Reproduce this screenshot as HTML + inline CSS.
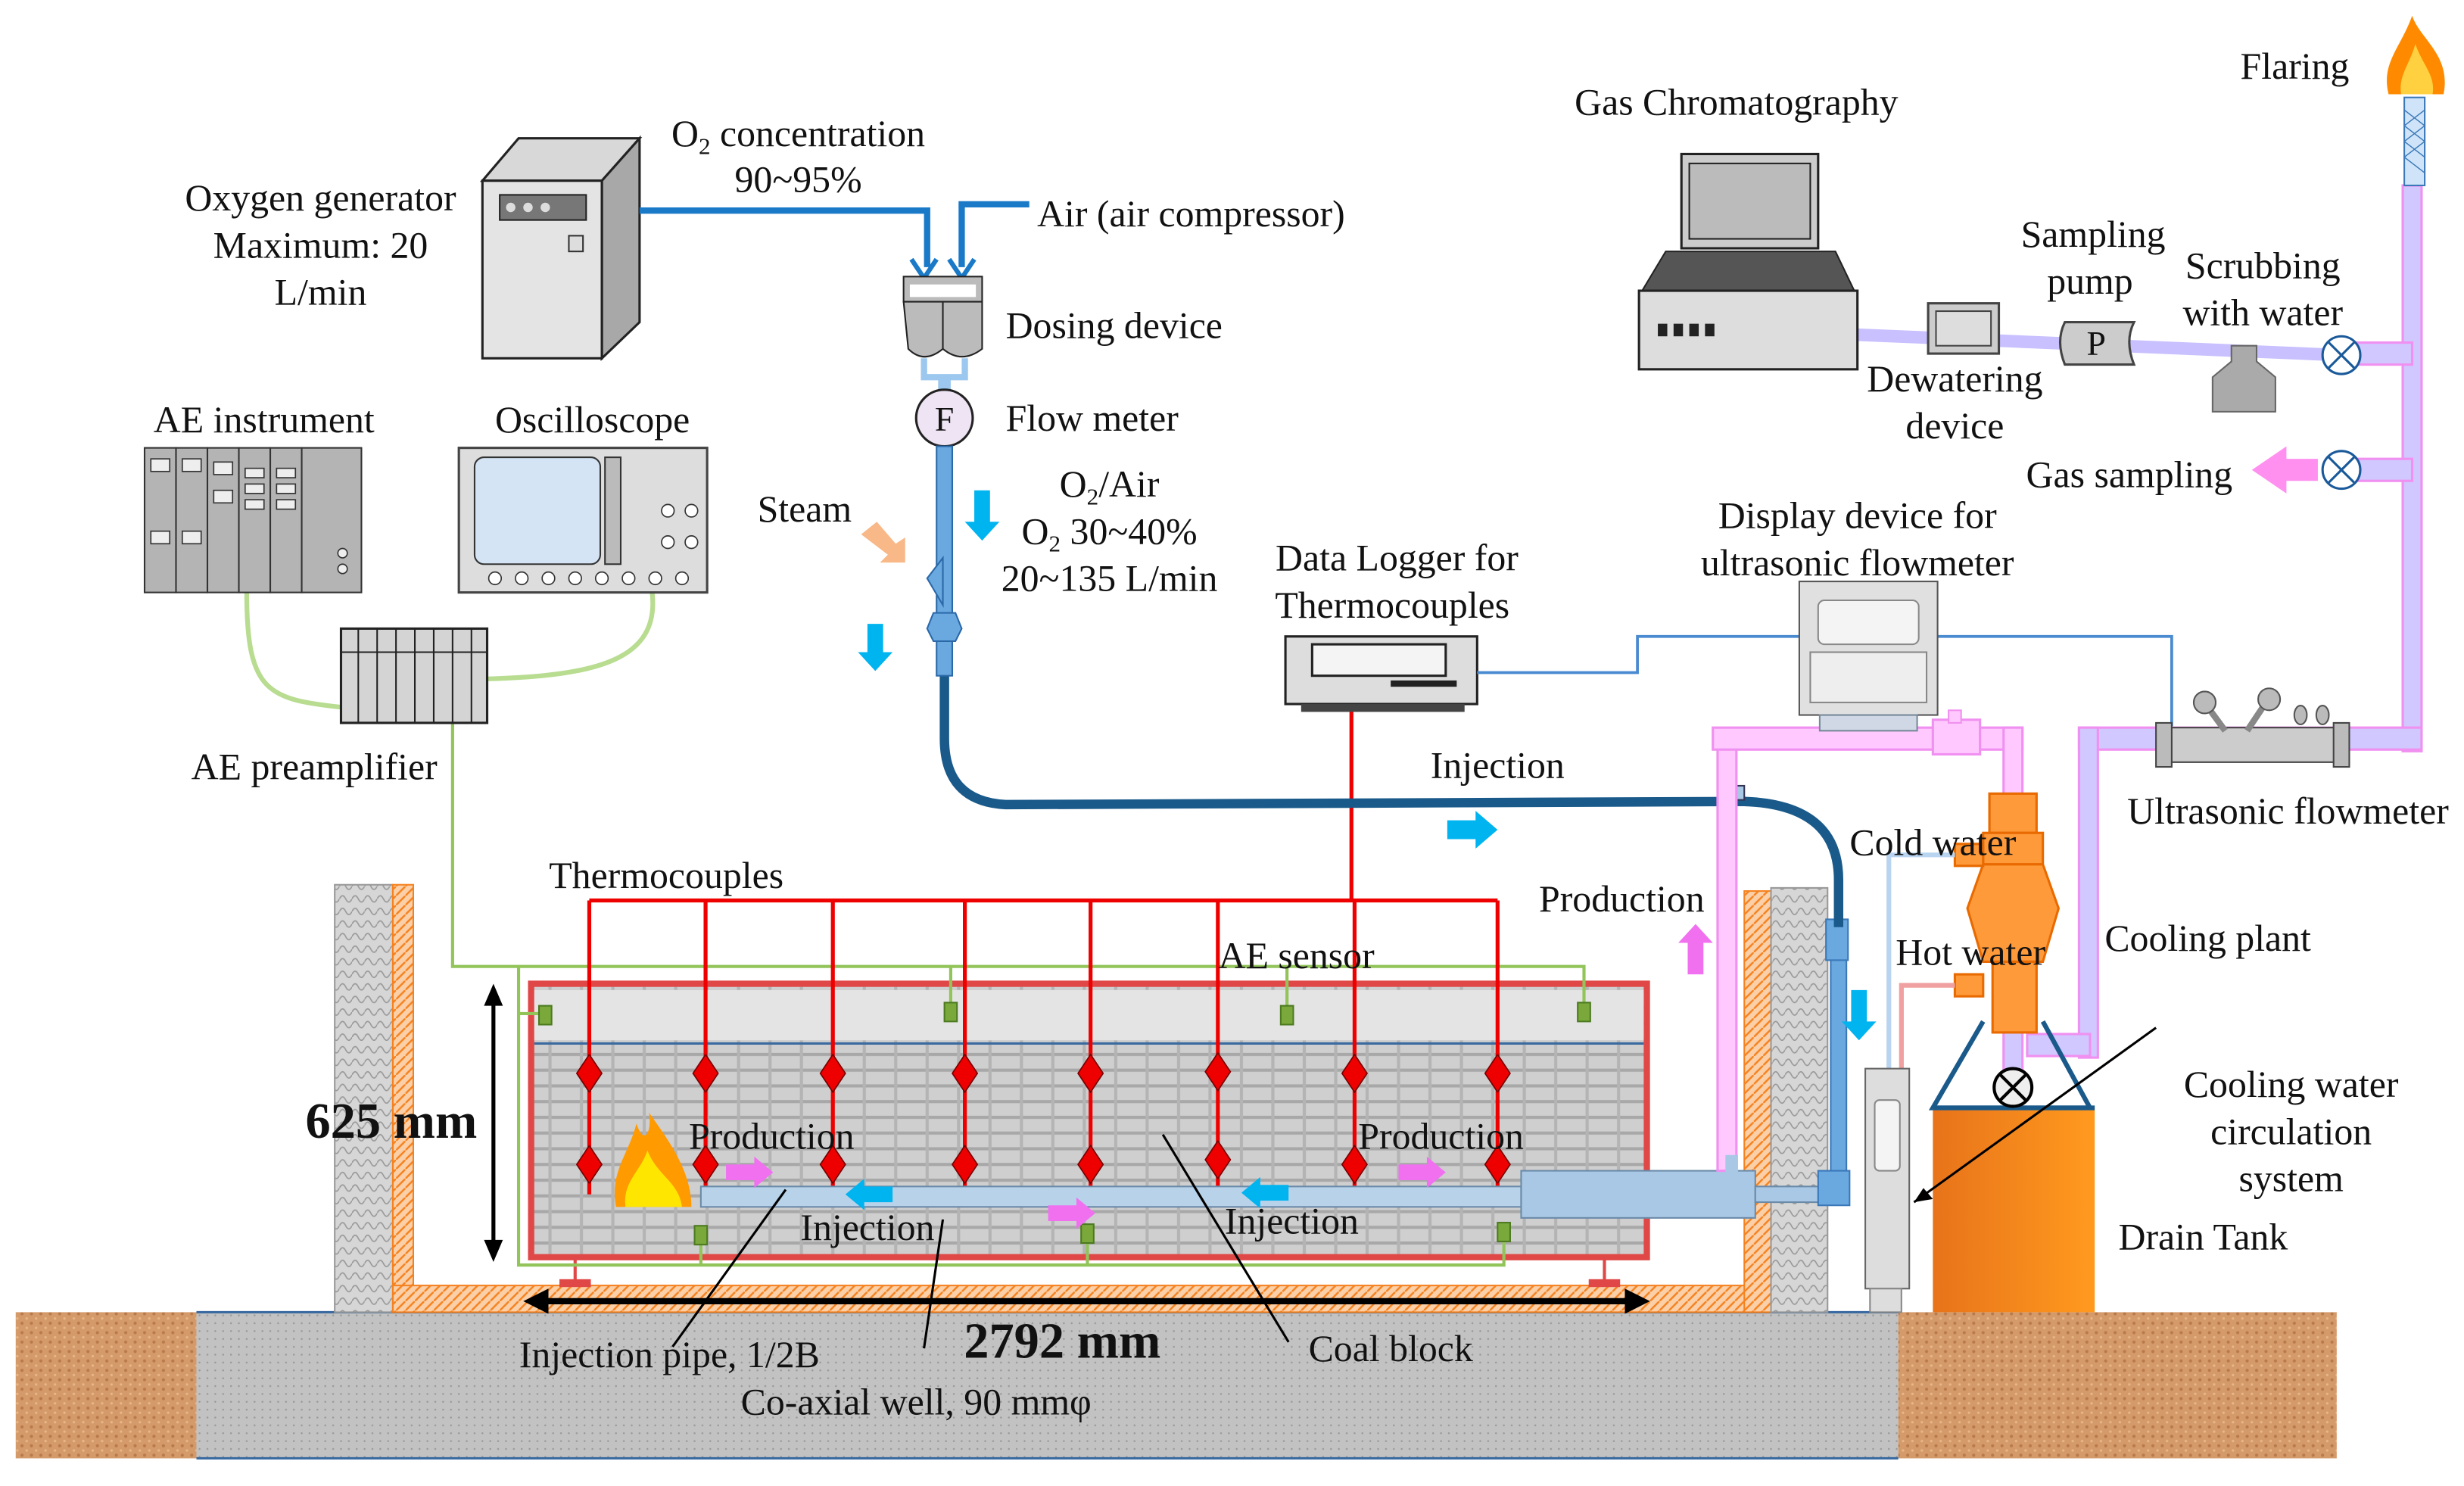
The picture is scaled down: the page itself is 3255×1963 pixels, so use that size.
<!DOCTYPE html>
<html><head><meta charset="utf-8"><style>
html,body{margin:0;padding:0;background:#fff;}
svg{display:block;}
text{font-family:"Liberation Serif",serif;font-size:24px;fill:#111;}
.c{text-anchor:middle;}
</style></head><body>
<svg width="3255" height="1963" viewBox="0 0 1568 945.6" preserveAspectRatio="none" xmlns="http://www.w3.org/2000/svg">
<defs>
<pattern id="brick" width="20" height="10" patternUnits="userSpaceOnUse">
<rect width="20" height="10" fill="#cfcfcf"/><rect x="0" y="0" width="20" height="2" fill="#a8a8a8"/><rect x="9" y="0" width="2" height="10" fill="#b4b4b4"/>
</pattern>
<pattern id="hatch" width="6" height="6" patternUnits="userSpaceOnUse">
<rect width="6" height="6" fill="#fbd0a8"/><path d="M0 6L6 0" stroke="#f58220" stroke-width="1.2"/>
</pattern>
<pattern id="wall" width="8" height="8" patternUnits="userSpaceOnUse">
<rect width="8" height="8" fill="#d6d6d6"/><path d="M0 4Q2 0 4 4T8 4" stroke="#999" fill="none" stroke-width="0.8"/>
</pattern>
<pattern id="soil" width="6" height="6" patternUnits="userSpaceOnUse">
<rect width="6" height="6" fill="#d49a6a"/><circle cx="2" cy="2" r="1" fill="#b87a4a"/><circle cx="5" cy="5" r="0.8" fill="#e8b688"/>
</pattern>
<pattern id="conc" width="5" height="5" patternUnits="userSpaceOnUse">
<rect width="5" height="5" fill="#c2c2c2"/><circle cx="2" cy="2" r="0.6" fill="#999"/>
</pattern>
<linearGradient id="tank" x1="0" x2="1"><stop offset="0" stop-color="#e8731a"/><stop offset="1" stop-color="#ff9a1e"/></linearGradient>
</defs>

<rect x="10" y="835" width="115" height="93" fill="url(#soil)"/>
<rect x="125" y="835" width="1083" height="93" fill="url(#conc)"/>
<rect x="1208" y="835" width="279" height="93" fill="url(#soil)"/>
<line x1="125" y1="835" x2="1208" y2="835" stroke="#3a6aa0" stroke-width="1.5"/>
<line x1="125" y1="928" x2="1208" y2="928" stroke="#3a6aa0" stroke-width="1.5"/>

<rect x="213" y="563" width="37" height="272" fill="url(#wall)" stroke="#999"/>
<rect x="250" y="563" width="13" height="272" fill="url(#hatch)" stroke="#f58220"/>
<rect x="250" y="818" width="877" height="17" fill="url(#hatch)" stroke="#f58220"/>
<rect x="1110" y="567" width="17" height="268" fill="url(#hatch)" stroke="#f58220"/>
<rect x="1127" y="565" width="36" height="270" fill="url(#wall)" stroke="#999"/>

<rect x="338" y="626" width="710" height="174" fill="url(#brick)" stroke="#e04848" stroke-width="4"/>
<rect x="340" y="630" width="706" height="32" fill="#e4e4e4"/>
<line x1="340" y1="664" x2="1046" y2="664" stroke="#3a6aa0" stroke-width="1.5"/>
<line x1="366" y1="800" x2="366" y2="818" stroke="#e04848" stroke-width="2"/><rect x="356" y="814" width="20" height="5" fill="#e04848"/>
<line x1="1021" y1="800" x2="1021" y2="818" stroke="#e04848" stroke-width="2"/><rect x="1011" y="814" width="20" height="5" fill="#e04848"/>

<line x1="314" y1="635" x2="314" y2="795" stroke="#000" stroke-width="2.5"/>
<path d="M314 626l-6 14h12z M314 803l-6 -14h12z" fill="#000"/>
<line x1="345" y1="828" x2="1040" y2="828" stroke="#000" stroke-width="4"/>
<path d="M333 828l16 -8v16z M1050 828l-16 -8v16z" fill="#000"/>

<g stroke="#92c45a" stroke-width="2" fill="none">
<path d="M288 460V615H1008V645"/>
<path d="M605 615V645 M819 615V645"/>
<path d="M330 615V805H957V785 M446 805V785 M692 805V785 M330 645H347"/>
<path d="M157 377C157 440 170 445 217 450 M415 377C420 420 380 430 310 432" stroke="#b8dc90" stroke-width="3"/>
</g>
<g fill="#7aa83a" stroke="#4c7a20" stroke-width="1">
<rect x="343" y="640" width="8" height="12"/><rect x="601" y="638" width="8" height="12"/><rect x="815" y="640" width="8" height="12"/><rect x="1004" y="638" width="8" height="12"/>
<rect x="442" y="780" width="8" height="12"/><rect x="688" y="779" width="8" height="12"/><rect x="953" y="778" width="8" height="12"/>
</g>

<g stroke="#e00" stroke-width="2.5" fill="none">
<path d="M860 452V573 M375 573H953"/>
<path d="M375 573V760 M449 573V760 M530 573V760 M614 573V760 M694 573V760 M775 573V760 M862 573V760 M953 573V760"/>
</g>
<g fill="#e00" stroke="#700" stroke-width="0.8">
<path d="M375 671l-8 12l8 12l8-12z M449 671l-8 12l8 12l8-12z M530 671l-8 12l8 12l8-12z M614 671l-8 12l8 12l8-12z M694 671l-8 12l8 12l8-12z M775 670l-8 12l8 12l8-12z M862 671l-8 12l8 12l8-12z M953 671l-8 12l8 12l8-12z"/>
<path d="M375 729l-8 12l8 12l8-12z M449 729l-8 12l8 12l8-12z M530 729l-8 12l8 12l8-12z M614 729l-8 12l8 12l8-12z M694 729l-8 12l8 12l8-12z M775 726l-8 12l8 12l8-12z M862 729l-8 12l8 12l8-12z M953 729l-8 12l8 12l8-12z"/>
</g>

<path d="M392 768C388 745 400 735 405 715C410 730 415 720 413 708C425 725 440 745 440 768Z" fill="#ff9a00"/>
<path d="M398 768C396 752 408 745 412 732C418 748 432 752 434 768Z" fill="#ffe600"/>

<rect x="446" y="755" width="522" height="13" fill="#b8d2ea" stroke="#6a8aa8"/>
<rect x="968" y="745" width="149" height="30" fill="#a8c8e6" stroke="#6a8aa8"/>
<rect x="1117" y="755" width="48" height="10" fill="#a8c8e6" stroke="#6a8aa8"/>
<rect x="1165" y="595" width="10" height="170" fill="#6aa8e0" stroke="#3a78b8"/>
<rect x="1162" y="585" width="14" height="26" fill="#6aa8e0" stroke="#3a78b8"/>
<rect x="1157" y="745" width="20" height="22" fill="#6aa8e0" stroke="#3a78b8"/>

<g fill="#f070f0"><path d="M462 741h18v-5l12 10l-12 10v-5h-18z M890 741h18v-5l12 10l-12 10v-5h-18z M667 767h18v-5l12 10l-12 10v-5h-18z"/></g>
<g fill="#00b4f0"><path d="M568 755h-18v-5l-12 10l12 10v-5h18z M820 754h-18v-5l-12 10l12 10v-5h18z"/>
<path d="M921 522h18v-6l14 12l-14 12v-6h-18z"/>
<path d="M620 312h10v20h6l-11 12l-11-12h6z M552 397h10v18h6l-11 12l-11-12h6z M1178 630h10v20h6l-11 12l-11-12h6z"/></g>
<path d="M1074 620v-20h-6l11-12l11 12h-6v20z" fill="#f070f0"/>
<path d="M548 340l10-8l12 14l6-4v16h-16l5-5z" fill="#f8b888"/>

<path d="M601 430V470Q601 510 640 512L1110 510Q1170 512 1170 560V590" fill="none" stroke="#1a5a8a" stroke-width="6"/>
<rect x="1103" y="500" width="7" height="9" fill="#a8c8e6" stroke="#335"/>

<g fill="#ffc8ff" stroke="#f090f0" stroke-width="1.5">
<rect x="1093" y="465" width="12" height="280"/>
<rect x="1090" y="463" width="197" height="14"/>
<rect x="1275" y="463" width="12" height="50"/>
<rect x="1230" y="458" width="30" height="22"/>
</g>
<rect x="1240" y="452" width="8" height="8" fill="#ffc8ff" stroke="#f090f0"/>
<rect x="1098" y="735" width="8" height="12" fill="#a8c8e6"/>
<g fill="#d0c8ff" stroke="#f090f0" stroke-width="1.5">
<rect x="1529" y="118" width="12" height="360"/>
<rect x="1323" y="463" width="218" height="14"/>
<rect x="1323" y="463" width="12" height="210"/>
<rect x="1290" y="658" width="40" height="14"/>
<rect x="1275" y="655" width="12" height="35"/>
<rect x="1500" y="218" width="35" height="14"/>
<rect x="1500" y="292" width="35" height="14"/>
</g>
<path d="M1182 213L1490 226" stroke="#c8c0ff" stroke-width="8"/>

<path d="M1262 650L1230 705H1330L1300 650" fill="none" stroke="#1a5a8a" stroke-width="3"/>
<rect x="1230" y="705" width="103" height="130" fill="url(#tank)"/>
<line x1="1230" y1="705" x2="1333" y2="705" stroke="#1a5a8a" stroke-width="3"/>
<g fill="#ff9a3a" stroke="#e86a00" stroke-width="1.5">
<rect x="1266" y="505" width="30" height="25"/>
<rect x="1262" y="530" width="38" height="20"/>
<path d="M1262 550H1300L1310 578L1300 612H1262L1252 578Z"/>
<rect x="1268" y="612" width="28" height="45"/>
<rect x="1244" y="537" width="18" height="14"/>
<rect x="1244" y="620" width="18" height="14"/>
</g>
<path d="M1244 544H1202V680" fill="none" stroke="#b8d4f0" stroke-width="3"/>
<path d="M1244 627H1210V680" fill="none" stroke="#f0a0a0" stroke-width="3"/>
<circle cx="1281" cy="692" r="12" fill="#eee" stroke="#000" stroke-width="2"/>
<path d="M1273 684l16 16M1289 684l-16 16" stroke="#000" stroke-width="2"/>
<rect x="1187" y="680" width="28" height="140" fill="#ddd" stroke="#666"/>
<rect x="1193" y="700" width="16" height="45" rx="3" fill="#f4f4f4" stroke="#888"/>
<rect x="1190" y="820" width="20" height="15" fill="#ddd" stroke="#888"/>
<path d="M1372 654L1218 765" stroke="#000" stroke-width="1.5"/><path d="M1218 765l12-2l-6-7z" fill="#000"/>

<g stroke="#000" stroke-width="1.5">
<line x1="500" y1="757" x2="428" y2="857"/>
<line x1="600" y1="776" x2="588" y2="858"/>
<line x1="740" y1="722" x2="820" y2="854"/>
</g>

<path d="M307 115L330 88H407L383 115Z" fill="#d8d8d8" stroke="#222" stroke-width="1.5"/>
<path d="M383 115L407 88V205L383 228Z" fill="#a8a8a8" stroke="#222" stroke-width="1.5"/>
<rect x="307" y="115" width="76" height="113" fill="#e4e4e4" stroke="#222" stroke-width="1.5"/>
<rect x="318" y="124" width="55" height="16" fill="#777" stroke="#222"/>
<circle cx="325" cy="132" r="3" fill="#ddd"/><circle cx="336" cy="132" r="3" fill="#ddd"/><circle cx="347" cy="132" r="3" fill="#ddd"/>
<rect x="362" y="150" width="9" height="10" fill="#ddd" stroke="#333"/>
<g stroke="#1a7ac8" stroke-width="4" fill="none">
<path d="M407 134H590V170 M655 130H612V170"/>
</g>
<path d="M580 165l8 12l8-12 M604 165l8 12l8-12" stroke="#1a7ac8" stroke-width="3" fill="none"/>
<rect x="575" y="176" width="50" height="16" fill="#bbb" stroke="#222"/>
<rect x="579" y="181" width="42" height="8" fill="#fff"/>
<path d="M575 192H600V222Q588 232 578 222Z M600 192H625V222Q612 232 600 222Z" fill="#bbb" stroke="#222"/>
<path d="M588 228V240H614V228" fill="none" stroke="#9cc8f0" stroke-width="4"/>
<rect x="597" y="240" width="8" height="8" fill="#9cc8f0"/>
<circle cx="601" cy="266" r="18" fill="#eee4f4" stroke="#222" stroke-width="1.5"/>
<text x="601" y="274" class="c" style="font-size:22px">F</text>
<rect x="596" y="284" width="10" height="146" fill="#6aa8e0" stroke="#2a68a8"/>
<path d="M590 368L600 355V385Z" fill="#6aa8e0" stroke="#2a68a8"/>
<path d="M594 390H608L612 400L608 408H594L590 400Z" fill="#6aa8e0" stroke="#2a68a8"/>

<g fill="#b4b4b4" stroke="#333">
<rect x="92" y="285" width="20" height="92"/><rect x="112" y="285" width="20" height="92"/><rect x="132" y="285" width="20" height="92"/><rect x="152" y="285" width="20" height="92"/><rect x="172" y="285" width="20" height="92"/><rect x="192" y="285" width="38" height="92"/>
</g>
<g fill="#eee" stroke="#333" stroke-width="0.8">
<rect x="96" y="292" width="12" height="8"/><rect x="116" y="292" width="12" height="8"/><rect x="136" y="294" width="12" height="8"/><rect x="136" y="312" width="12" height="8"/><rect x="156" y="298" width="12" height="6"/><rect x="156" y="308" width="12" height="6"/><rect x="156" y="318" width="12" height="6"/><rect x="176" y="298" width="12" height="6"/><rect x="176" y="308" width="12" height="6"/><rect x="176" y="318" width="12" height="6"/><rect x="96" y="338" width="12" height="8"/><rect x="116" y="338" width="12" height="8"/>
<circle cx="218" cy="352" r="3"/><circle cx="218" cy="362" r="3"/>
</g>
<rect x="292" y="285" width="158" height="92" fill="#ddd" stroke="#444" stroke-width="1.5"/>
<rect x="302" y="291" width="80" height="68" rx="6" fill="#d4e4f4" stroke="#333"/>
<rect x="385" y="291" width="10" height="68" fill="#bbb" stroke="#333"/>
<g fill="#fff" stroke="#333" stroke-width="0.8"><circle cx="315" cy="368" r="4"/><circle cx="332" cy="368" r="4"/><circle cx="349" cy="368" r="4"/><circle cx="366" cy="368" r="4"/><circle cx="383" cy="368" r="4"/><circle cx="400" cy="368" r="4"/><circle cx="417" cy="368" r="4"/><circle cx="434" cy="368" r="4"/><circle cx="425" cy="325" r="4"/><circle cx="440" cy="325" r="4"/><circle cx="425" cy="345" r="4"/><circle cx="440" cy="345" r="4"/></g>
<rect x="217" y="400" width="93" height="60" fill="#d4d4d4" stroke="#222" stroke-width="1.5"/>
<g stroke="#222"><line x1="228" y1="400" x2="228" y2="460"/><line x1="240" y1="400" x2="240" y2="460"/><line x1="252" y1="400" x2="252" y2="460"/><line x1="264" y1="400" x2="264" y2="460"/><line x1="276" y1="400" x2="276" y2="460"/><line x1="288" y1="400" x2="288" y2="460"/><line x1="300" y1="400" x2="300" y2="460"/><line x1="217" y1="415" x2="310" y2="415"/></g>

<rect x="818" y="405" width="122" height="43" fill="#ddd" stroke="#222" stroke-width="1.5"/>
<rect x="835" y="410" width="85" height="20" fill="#f4f4f4" stroke="#222" stroke-width="1.5"/>
<rect x="885" y="433" width="42" height="4" fill="#222"/>
<rect x="828" y="448" width="104" height="5" fill="#444"/>
<path d="M940 428H1042V405H1145 M1233 405H1382V462" fill="none" stroke="#4a8ad0" stroke-width="1.8"/>
<rect x="1145" y="370" width="88" height="85" fill="#e0e0e0" stroke="#555"/>
<rect x="1157" y="382" width="64" height="28" rx="4" fill="#f4f4f4" stroke="#888"/>
<rect x="1152" y="415" width="74" height="32" fill="#eee" stroke="#888"/>
<rect x="1158" y="455" width="62" height="10" fill="#cfd8e4" stroke="#789"/>
<rect x="1375" y="463" width="118" height="22" fill="#ccc" stroke="#444"/>
<rect x="1372" y="460" width="10" height="28" fill="#bbb" stroke="#444"/><rect x="1485" y="460" width="10" height="28" fill="#bbb" stroke="#444"/>
<g stroke="#888" stroke-width="4"><line x1="1405" y1="450" x2="1416" y2="465"/><line x1="1440" y1="450" x2="1430" y2="465"/></g>
<circle cx="1403" cy="447" r="7" fill="#bbb" stroke="#555"/><circle cx="1444" cy="445" r="7" fill="#bbb" stroke="#555"/>
<ellipse cx="1464" cy="455" rx="4" ry="6" fill="#bbb" stroke="#555"/><ellipse cx="1478" cy="455" rx="4" ry="6" fill="#bbb" stroke="#555"/>

<rect x="1070" y="98" width="87" height="60" fill="#ccc" stroke="#222" stroke-width="1.5"/>
<rect x="1075" y="104" width="77" height="48" fill="#bbb" stroke="#222"/>
<path d="M1060 160H1168L1180 185H1045Z" fill="#555" stroke="#222"/>
<rect x="1043" y="185" width="139" height="50" fill="#ddd" stroke="#222" stroke-width="1.5"/>
<g fill="#222"><rect x="1055" y="206" width="6" height="8"/><rect x="1065" y="206" width="6" height="8"/><rect x="1075" y="206" width="6" height="8"/><rect x="1085" y="206" width="6" height="8"/></g>
<rect x="1227" y="193" width="45" height="32" fill="#ccc" stroke="#444" stroke-width="1.5"/>
<rect x="1232" y="198" width="35" height="22" fill="#ddd" stroke="#444"/>
<path d="M1314 205H1358Q1352 217 1358 232H1314Q1308 217 1314 205Z" fill="#ccc" stroke="#444" stroke-width="1.5"/>
<text x="1334" y="226" class="c" style="font-size:22px">P</text>
<path d="M1420 220H1436V230L1448 240V262H1408V240L1420 230Z" fill="#aaa" stroke="#666"/>
<g fill="#fff" stroke="#1a5a9a" stroke-width="1.5"><circle cx="1490" cy="226" r="12"/><circle cx="1490" cy="299" r="12"/></g>
<path d="M1482 218l16 16M1498 218l-16 16 M1482 291l16 16M1498 291l-16 16" stroke="#1a5a9a" stroke-width="1.5"/>
<path d="M1475 292h-20v-8l-22 15l22 15v-8h20z" fill="#ff90f0"/>
<rect x="1530" y="62" width="13" height="56" fill="#cfe4f8" stroke="#3a78b8"/>
<path d="M1530 70 L1543 80 M1530 80 L1543 90 M1530 90 L1543 100 M1530 100 L1543 110 M1543 70 L1530 80 M1543 80 L1530 90 M1543 90 L1530 100" stroke="#3a78b8" stroke-width="0.7"/>
<path d="M1520 60C1515 40 1528 30 1535 10C1540 25 1560 35 1555 60Z" fill="#ff8a00"/>
<path d="M1528 60C1526 48 1534 40 1537 28C1542 42 1550 48 1548 60Z" fill="#ffd040"/>

<text x="204" y="134" class="c">Oxygen  generator</text>
<text x="204" y="164" class="c">Maximum:  20</text>
<text x="204" y="194" class="c">L/min</text>
<text x="508" y="93" class="c">O<tspan font-size="15" dy="5">2</tspan><tspan dy="-5"> concentration</tspan></text>
<text x="508" y="122" class="c">90~95%</text>
<text x="660" y="144">Air (air compressor)</text>
<text x="640" y="215">Dosing  device</text>
<text x="640" y="274">Flow meter</text>
<text x="1105" y="73" class="c">Gas Chromatography</text>
<text x="1495" y="50" text-anchor="end">Flaring</text>
<text x="1332" y="157" class="c">Sampling</text>
<text x="1330" y="187" class="c">pump</text>
<text x="1440" y="177" class="c">Scrubbing</text>
<text x="1440" y="207" class="c">with water</text>
<text x="1244" y="249" class="c">Dewatering</text>
<text x="1244" y="279" class="c">device</text>
<text x="1355" y="310" class="c">Gas sampling</text>
<text x="168" y="275" class="c">AE instrument</text>
<text x="377" y="275" class="c">Oscilloscope</text>
<text x="512" y="332" class="c">Steam</text>
<text x="706" y="316" class="c">O<tspan font-size="15" dy="5">2</tspan><tspan dy="-5">/Air</tspan></text>
<text x="706" y="346" class="c">O<tspan font-size="15" dy="5">2</tspan><tspan dy="-5"> 30~40%</tspan></text>
<text x="706" y="376" class="c">20~135 L/min</text>
<text x="889" y="363" class="c">Data Logger  for</text>
<text x="886" y="393" class="c">Thermocouples</text>
<text x="1182" y="336" class="c">Display device for</text>
<text x="1182" y="366" class="c">ultrasonic flowmeter</text>
<text x="200" y="496" class="c">AE preamplifier</text>
<text x="953" y="495" class="c">Injection</text>
<text x="1456" y="524" class="c">Ultrasonic  flowmeter</text>
<text x="1230" y="544" class="c">Cold water</text>
<text x="1032" y="580" class="c">Production</text>
<text x="1254" y="614" class="c">Hot water</text>
<text x="1405" y="605" class="c">Cooling  plant</text>
<text x="424" y="565" class="c">Thermocouples</text>
<text x="825" y="616" class="c">AE sensor</text>
<text x="249" y="724" class="c" style="font-size:32px;font-weight:bold">625 mm</text>
<text x="491" y="731" class="c">Production</text>
<text x="917" y="731" class="c">Production</text>
<text x="552" y="789" class="c">Injection</text>
<text x="822" y="785" class="c">Injection</text>
<text x="1458" y="698" class="c">Cooling  water</text>
<text x="1458" y="728" class="c">circulation</text>
<text x="1458" y="758" class="c">system</text>
<text x="1402" y="795" class="c">Drain Tank</text>
<text x="426" y="870" class="c">Injection  pipe,  1/2B</text>
<text x="676" y="864" class="c" style="font-size:32px;font-weight:bold">2792 mm</text>
<text x="885" y="866" class="c">Coal block</text>
<text x="583" y="900" class="c">Co-axial  well,  90 mmφ</text>
</svg>
</body></html>
